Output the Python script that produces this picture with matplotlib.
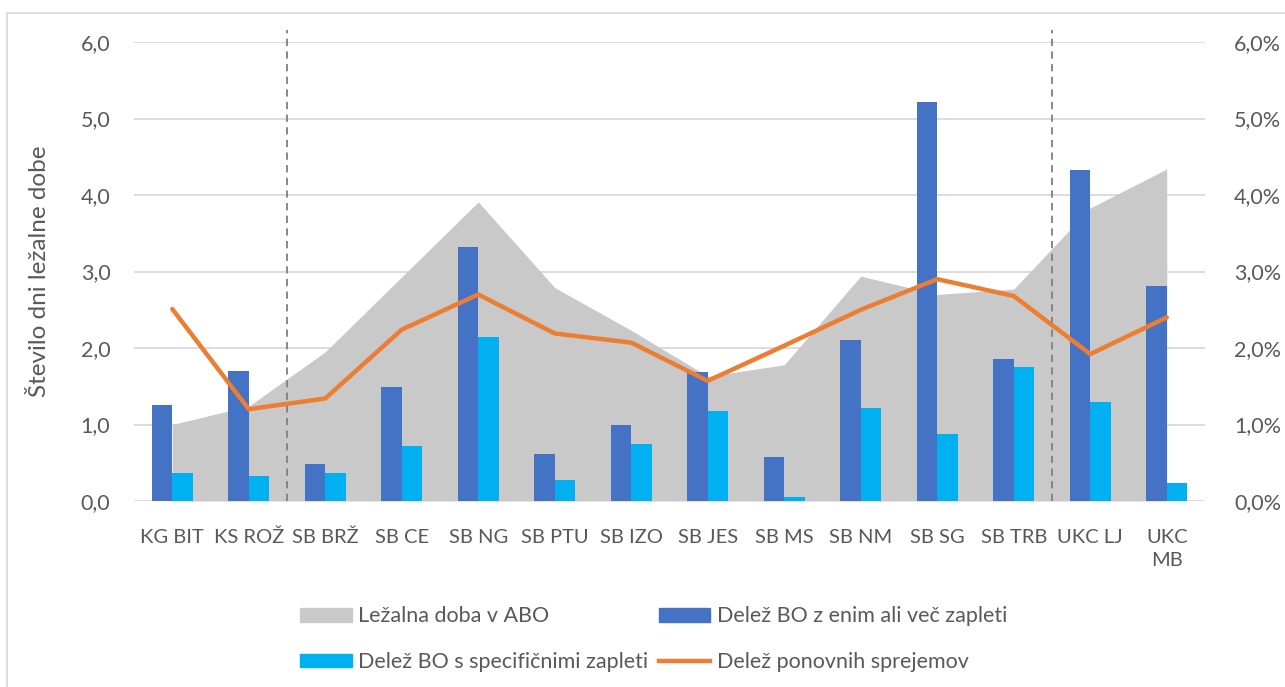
import matplotlib.pyplot as plt
from matplotlib.patches import Rectangle, Patch
from matplotlib.lines import Line2D
from matplotlib.ticker import FuncFormatter
import numpy as np

# data
bolnisnice = ['KG BIT', 'KS ROŽ', 'SB BRŽ', 'SB CE', 'SB NG', 'SB PTU', 'SB IZO',
              'SB JES', 'SB MS', 'SB NM', 'SB SG', 'SB TRB', 'UKC LJ', 'UKC\nMB']
lezalna_doba = [1.00, 1.24, 1.95, 2.93, 3.91, 2.79, 2.23, 1.63, 1.78, 2.94, 2.70, 2.77, 3.83, 4.34]
zapleti_vsi = [1.25, 1.70, 0.48, 1.49, 3.32, 0.62, 1.00, 1.68, 0.57, 2.10, 5.22, 1.85, 4.33, 2.81]
zapleti_spec = [0.37, 0.33, 0.36, 0.72, 2.15, 0.28, 0.74, 1.18, 0.05, 1.21, 0.87, 1.75, 1.29, 0.24]
ponovni_sprejemi = [2.51, 1.20, 1.34, 2.24, 2.70, 2.19, 2.07, 1.57, 2.03, 2.50, 2.90, 2.68, 1.92, 2.40]
meje_skupin = [1.5, 11.5]

plt.rcParams['font.family'] = ['Lato', 'DejaVu Sans']
siva_txt = '#595959'

fig = plt.figure(figsize=(12.85, 6.87), dpi=100)
ax = fig.add_axes([134 / 1285, 1 - 501 / 687, 1071 / 1285, 459 / 687])
ax2 = ax.twinx()

x = np.arange(len(bolnisnice))
w = 0.27

ax.fill_between(x, lezalna_doba, color='#c9c9c9', lw=0, zorder=2)
for m in meje_skupin:
    ax.plot([m, m], [0, 6.16], ls=(0, (4, 3)), color='#7f7f7f', lw=1.3,
            clip_on=False, zorder=3)

ax2.bar(x - w / 2, zapleti_vsi, width=w, color='#4472c4', zorder=2)
ax2.bar(x + w / 2, zapleti_spec, width=w, color='#00b0f0', zorder=2)
ax2.plot(x, ponovni_sprejemi, color='#ed7d31', lw=3.2, solid_capstyle='round', zorder=3)

for a in (ax, ax2):
    a.set_xlim(-0.5, len(bolnisnice) - 0.5)
    a.set_ylim(0, 6)
    a.set_yticks(np.arange(0, 6.1, 1))
    for s in a.spines.values():
        s.set_visible(False)
    a.tick_params(length=0, labelsize=15.5, colors=siva_txt)

ax.yaxis.grid(True, color='#d9d9d9', lw=1.3)
ax.set_axisbelow(True)
ax.yaxis.set_major_formatter(FuncFormatter(lambda v, p: f'{v:.1f}'.replace('.', ',')))
ax2.yaxis.set_major_formatter(FuncFormatter(lambda v, p: f'{v:.1f}%'.replace('.', ',')))
ax.tick_params(axis='y', pad=17)
ax2.tick_params(axis='y', pad=21)
ax.set_xticks(x)
ax.set_xticklabels(bolnisnice, linespacing=1.45)
ax.tick_params(axis='x', pad=20, labelsize=14.5)
ax.set_ylabel('Število dni ležalne dobe', fontsize=17.5, color=siva_txt)
ax.yaxis.set_label_coords(-84 / 1071, 0.5)

handles = [Patch(color='#c9c9c9'), Patch(color='#00b0f0'),
           Patch(color='#4472c4'), Line2D([], [], color='#ed7d31', lw=3.2)]
labels = ['Ležalna doba v ABO', 'Delež BO s specifičnimi zapleti',
          'Delež BO z enim ali več zapleti', 'Delež ponovnih sprejemov']
fig.legend(handles, labels, ncol=2, loc='upper left', bbox_to_anchor=(281 / 1285, 1 - 587 / 687),
           frameon=False, fontsize=15.5, labelcolor=siva_txt, handlelength=2.4,
           handleheight=0.6, handletextpad=0.3, columnspacing=0.47, labelspacing=1.2)

fig.patches.append(Rectangle((7 / 1285, -0.1), 1.2, 1 - 13 / 687 + 0.1, transform=fig.transFigure,
                             fill=False, edgecolor='#d9d9d9', lw=1.3))

fig.savefig('out.png', dpi=100)
